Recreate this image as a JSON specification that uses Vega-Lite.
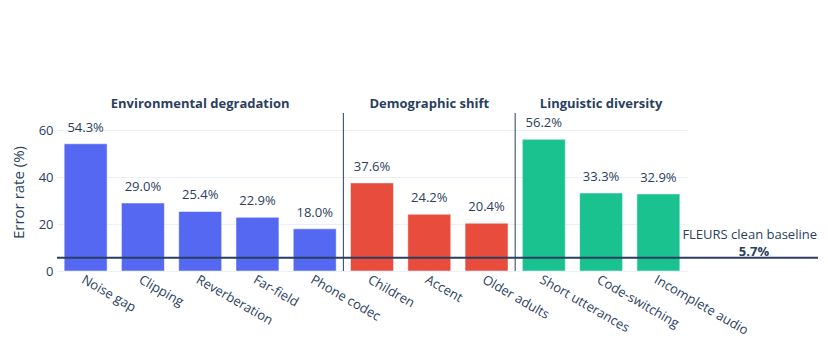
{
  "$schema": "https://vega.github.io/schema/vega-lite/v6.json",
  "width": 761,
  "height": 158,
  "autosize": {"type": "none"},
  "padding": {"left": 57, "top": 113, "right": 10, "bottom": 86},
  "background": "white",
  "config": {
    "font": "Open Sans",
    "view": {"stroke": null},
    "axis": {"labelColor": "#2a3f5f", "titleColor": "#2a3f5f", "labelFont": "Open Sans", "titleFont": "Open Sans"}
  },
  "datasets": {
    "bars": [
      {"condition": "Noise gap", "group": "Environmental degradation", "rate": 54.3},
      {"condition": "Clipping", "group": "Environmental degradation", "rate": 29.0},
      {"condition": "Reverberation", "group": "Environmental degradation", "rate": 25.4},
      {"condition": "Far-field", "group": "Environmental degradation", "rate": 22.9},
      {"condition": "Phone codec", "group": "Environmental degradation", "rate": 18.0},
      {"condition": "Children", "group": "Demographic shift", "rate": 37.6},
      {"condition": "Accent", "group": "Demographic shift", "rate": 24.2},
      {"condition": "Older adults", "group": "Demographic shift", "rate": 20.4},
      {"condition": "Short utterances", "group": "Linguistic diversity", "rate": 56.2},
      {"condition": "Code-switching", "group": "Linguistic diversity", "rate": 33.3},
      {"condition": "Incomplete audio", "group": "Linguistic diversity", "rate": 32.9}
    ],
    "groups": [
      {"condition": "Reverberation", "group": "Environmental degradation"},
      {"condition": "Accent", "group": "Demographic shift"},
      {"condition": "Code-switching", "group": "Linguistic diversity"}
    ],
    "separators": [
      {"condition": "Children"},
      {"condition": "Short utterances"}
    ],
    "baseline": [
      {"label": "FLEURS clean baseline", "value": 5.7, "valueText": "5.7%"}
    ]
  },
  "layer": [
    {
      "data": {"name": "bars"},
      "mark": {"type": "bar", "stroke": "white", "strokeWidth": 0.5},
      "encoding": {
        "x": {
          "field": "condition", "type": "nominal", "sort": null,
          "scale": {
            "domain": ["Noise gap", "Clipping", "Reverberation", "Far-field", "Phone codec", "Children", "Accent", "Older adults", "Short utterances", "Code-switching", "Incomplete audio"],
            "range": [0, 630], "paddingInner": 0.25, "paddingOuter": 0.125
          },
          "axis": {"title": null, "domain": false, "ticks": false, "labelAngle": 30, "labelAlign": "left", "labelBaseline": "top", "labelPadding": 2, "labelFontSize": 13}
        },
        "y": {
          "field": "rate", "type": "quantitative",
          "scale": {"domain": [0, 67.44], "nice": false},
          "axis": {"title": "Error rate (%)", "titleFontSize": 15, "titleFontWeight": "normal", "titlePadding": 12, "values": [0, 20, 40, 60], "domain": false, "ticks": false, "labelPadding": 4, "labelFontSize": 13, "gridColor": "#EBF0F8", "gridWidth": 1}
        },
        "color": {
          "field": "group", "type": "nominal", "legend": null,
          "scale": {"domain": ["Environmental degradation", "Demographic shift", "Linguistic diversity"], "range": ["#5468F2", "#E74C3C", "#19C28F"]}
        }
      }
    },
    {
      "data": {"name": "bars"},
      "transform": [{"calculate": "format(datum.rate, '.1f') + '%'", "as": "rateLabel"}],
      "mark": {"type": "text", "baseline": "alphabetic", "dy": -12, "fontSize": 13, "color": "#2a3f5f"},
      "encoding": {
        "x": {"field": "condition", "type": "nominal", "sort": null},
        "y": {"field": "rate", "type": "quantitative"},
        "text": {"field": "rateLabel"}
      }
    },
    {
      "data": {"name": "separators"},
      "mark": {"type": "rule", "color": "#2a3f5f", "strokeWidth": 1},
      "encoding": {
        "x": {"field": "condition", "type": "nominal", "sort": null, "bandPosition": -0.1667}
      }
    },
    {
      "data": {"name": "baseline"},
      "mark": {"type": "rule", "color": "#2a3f5f", "strokeWidth": 2},
      "encoding": {
        "y": {"field": "value", "type": "quantitative"}
      }
    },
    {
      "data": {"name": "groups"},
      "mark": {"type": "text", "fontWeight": "bold", "fontSize": 13, "color": "#2a3f5f", "baseline": "alphabetic", "dy": -5},
      "encoding": {
        "x": {"field": "condition", "type": "nominal", "sort": null},
        "y": {"datum": 67.44},
        "text": {"field": "group"}
      }
    },
    {
      "data": {"name": "baseline"},
      "mark": {"type": "text", "fontSize": 13, "color": "#2a3f5f", "align": "right", "baseline": "alphabetic", "dy": -19, "dx": -1},
      "encoding": {
        "x": {"value": {"expr": "width"}},
        "y": {"field": "value", "type": "quantitative"},
        "text": {"field": "label"}
      }
    },
    {
      "data": {"name": "baseline"},
      "mark": {"type": "text", "fontSize": 13, "fontWeight": "bold", "color": "#2a3f5f", "align": "center", "baseline": "alphabetic", "dy": -2, "dx": -64},
      "encoding": {
        "x": {"value": {"expr": "width"}},
        "y": {"field": "value", "type": "quantitative"},
        "text": {"field": "valueText"}
      }
    }
  ]
}
